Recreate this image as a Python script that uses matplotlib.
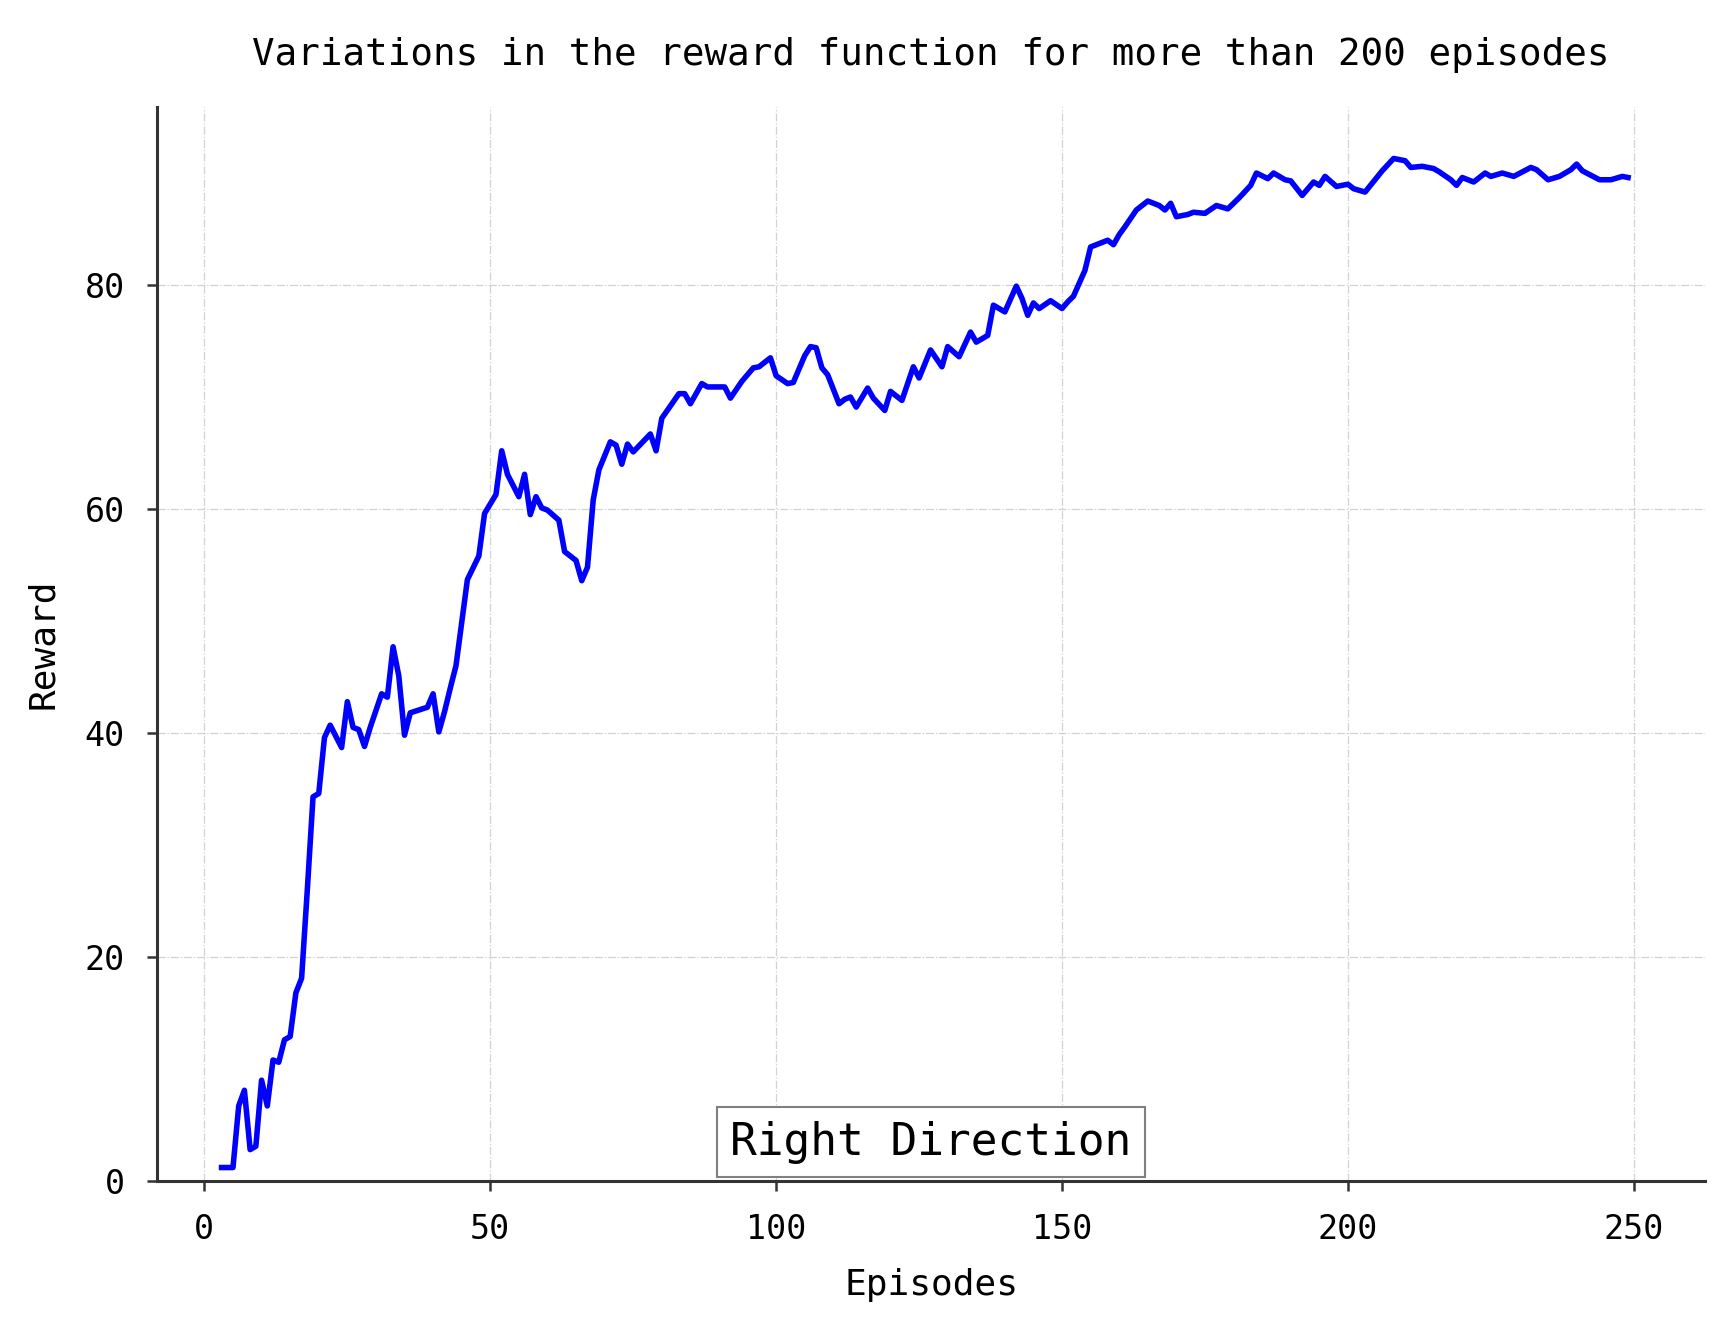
import matplotlib
matplotlib.use("Agg")
import matplotlib.pyplot as plt

## values (episode, reward)
episodes = [3, 5, 6, 7, 8, 9, 10, 11, 12, 13, 14, 15, 16, 17, 18, 19, 20,
            21, 22, 24, 25, 26, 27, 28, 29, 31, 32, 33, 34, 35, 36, 39, 40,
            41, 42, 43, 44, 46, 48, 49, 51, 52, 53, 55, 56, 57, 58, 59, 60,
            62, 63, 65, 66, 67, 68, 69, 71, 72, 73, 74, 75, 78, 79, 80, 83,
            84, 85, 87, 88, 91, 92, 94, 96, 97, 99, 100, 102, 103, 105, 106,
            107, 108, 109, 111, 112, 113, 114, 116, 117, 119, 120, 122, 124,
            125, 127, 129, 130, 132, 134, 135, 137, 138, 140, 142, 143, 144,
            145, 146, 148, 150, 151, 152, 154, 155, 158, 159, 160, 161, 163,
            165, 167, 168, 169, 170, 172, 173, 175, 177, 179, 181, 183, 184,
            186, 187, 189, 190, 192, 194, 195, 196, 198, 200, 201, 203, 206,
            208, 210, 211, 213, 215, 216, 218, 219, 220, 222, 224, 225, 227,
            229, 232, 233, 235, 237, 239, 240, 241, 244, 246, 248, 249]
rewards = [1.2, 1.2, 6.7, 8.1, 2.8, 3.1, 9.0, 6.7, 10.8, 10.6, 12.6, 12.9,
           16.8, 18.1, 26.0, 34.3, 34.6, 39.6, 40.7, 38.7, 42.8, 40.5, 40.3,
           38.8, 40.5, 43.5, 43.2, 47.7, 45.1, 39.8, 41.8, 42.3, 43.5, 40.1,
           41.9, 44.0, 46.0, 53.7, 55.8, 59.6, 61.3, 65.2, 63.1, 61.1, 63.1,
           59.5, 61.1, 60.1, 59.9, 59.0, 56.2, 55.4, 53.6, 54.8, 60.8, 63.5,
           66.0, 65.7, 64.0, 65.8, 65.1, 66.7, 65.2, 68.1, 70.3, 70.3, 69.4,
           71.2, 70.9, 70.9, 69.9, 71.4, 72.6, 72.7, 73.5, 71.9, 71.2, 71.3,
           73.7, 74.5, 74.4, 72.6, 72.0, 69.4, 69.8, 70.0, 69.1, 70.8, 69.9,
           68.8, 70.5, 69.7, 72.7, 71.7, 74.2, 72.7, 74.5, 73.6, 75.8, 74.9,
           75.5, 78.2, 77.6, 79.9, 78.8, 77.3, 78.4, 77.9, 78.6, 77.9, 78.5,
           79.0, 81.3, 83.4, 84.0, 83.6, 84.5, 85.2, 86.7, 87.5, 87.1, 86.7,
           87.3, 86.1, 86.3, 86.5, 86.4, 87.1, 86.8, 87.8, 88.9, 90.0, 89.5,
           90.0, 89.4, 89.3, 88.0, 89.2, 88.9, 89.7, 88.8, 89.0, 88.6, 88.3,
           90.2, 91.3, 91.1, 90.5, 90.6, 90.4, 90.1, 89.4, 88.9, 89.6, 89.2,
           90.0, 89.7, 90.0, 89.7, 90.5, 90.3, 89.4, 89.7, 90.3, 90.8, 90.2,
           89.4, 89.4, 89.7, 89.6]

x_ticks = [0, 50, 100, 150, 200, 250]
y_ticks = [0, 20, 40, 60, 80]

plt.rcParams['font.family'] = ['DejaVu Sans Mono', 'DejaVu Sans']

fig = plt.figure(figsize=(17.19, 13.37), dpi=100)
ax = fig.add_axes([0.0913, 0.1167, 0.9007, 0.8033])

ax.plot(episodes, rewards, color='blue', linewidth=4)

ax.set_xlim(-8.3, 262.5)
ax.set_ylim(0, 95.9)
ax.set_xticks(x_ticks)
ax.set_yticks(y_ticks)

for s in ['top', 'right']:
    ax.spines[s].set_visible(False)
for s in ['left', 'bottom']:
    ax.spines[s].set_color('#333333')
    ax.spines[s].set_linewidth(2.2)

ax.tick_params(axis='both', direction='out', length=7, width=1.8,
               color='#333333', labelsize=24, pad=16)

ax.grid(True, color='grey', linestyle='-.', linewidth=0.9, alpha=0.35)

ax.set_xlabel("Episodes", fontsize=26, labelpad=16)
ax.set_ylabel("Reward", fontsize=26, labelpad=18)
ax.set_title("Variations in the reward function for more than 200 episodes",
             fontsize=27, pad=30)

ax.text(0.5, 0.036, "Right Direction", transform=ax.transAxes,
        ha='center', va='center', fontsize=32, zorder=5,
        bbox=dict(boxstyle='square,pad=0.3', facecolor='white',
                  edgecolor='grey', linewidth=1.5))

plt.savefig("out.png", dpi=100)
